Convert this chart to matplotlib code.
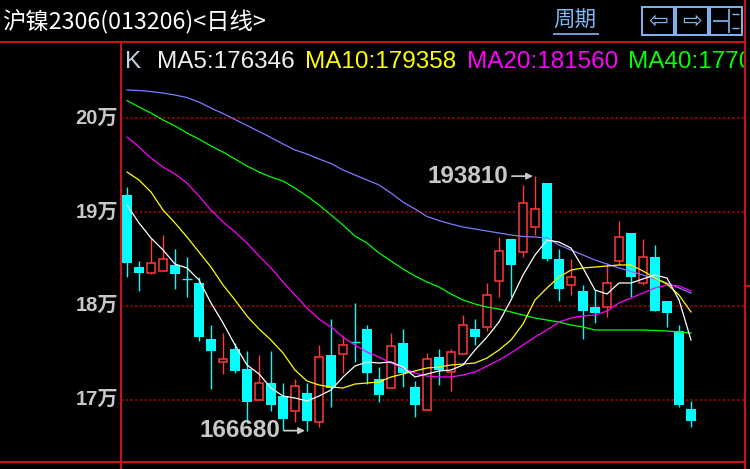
import matplotlib
matplotlib.use("Agg")
import matplotlib.pyplot as plt
from matplotlib.lines import Line2D
from matplotlib.patches import Rectangle
import matplotlib.transforms as mtransforms

# ---------------- data ----------------
title = "沪镍2306(013206)<日线>"
period_label = "周期"
y_ticks = [170000, 180000, 190000, 200000]
y_tick_labels = ["17万", "18万", "19万", "20万"]

opens = [191800, 184150, 183500, 183750, 184350, 182800, 182450, 176450, 173950, 175400,
         173250, 169950, 171750, 170400, 168800, 170650, 167550, 174750, 174800, 176150,
         177500, 172200, 171200, 176050, 171350, 168850, 174500, 172950, 174850, 177500,
         177750, 182650, 187100, 185700, 188400, 193100, 184980, 182250, 181550, 179850,
         179900, 184800, 187750, 182450, 185200, 180500, 177250, 169000]
highs = [192700, 184750, 187200, 187550, 186050, 185200, 183100, 177950, 177100, 176050,
         175150, 174750, 175150, 171800, 172200, 171800, 175800, 178600, 176800, 180250,
         177950, 173500, 177100, 177500, 171950, 175000, 175400, 175350, 179000, 178600,
         182400, 187300, 187100, 192850, 193810, 193100, 186050, 184950, 182200, 181650,
         184500, 189050, 187750, 187100, 186450, 180500, 177950, 169850]
lows = [183100, 181600, 183400, 183700, 181800, 180950, 176250, 171150, 172700, 172850,
        167500, 169950, 168800, 166750, 167550, 166680, 167100, 169250, 172850, 173950,
        171600, 169700, 171200, 171350, 168150, 168850, 171550, 170950, 174850, 175800,
        177250, 180950, 180950, 185200, 187550, 184800, 180550, 181150, 176450, 178200,
        178800, 184350, 180950, 182200, 179450, 177750, 169250, 167100]
closes = [184600, 183500, 184500, 185000, 183350, 182800, 176700, 175200, 174300, 173050,
          169700, 171750, 169400, 167900, 171450, 167750, 174500, 171200, 175800, 176150,
          172850, 170500, 175750, 172850, 169400, 174300, 173150, 175100, 177950, 176700,
          181150, 185850, 184350, 190980, 190280, 184980, 181800, 183050, 179450, 179250,
          182400, 187300, 183100, 185150, 179450, 179250, 169400, 167750]

ma5 = [190730, 188820, 187220, 185940, 184440, 184020, 182740, 180290, 178160, 175810,
       173680, 172720, 171230, 170370, 170160, 169840, 170370, 171010, 172400, 173570,
       174000, 173890, 174000, 173460, 172400, 172720, 173040, 173140, 173680, 175280,
       176660, 178260, 180610, 183270, 185400, 187000, 186790, 186150, 184020, 181670,
       181250, 182420, 182420, 182850, 183270, 182950, 180610, 176340]
ma10 = [194250, 193400, 192120, 190200, 188820, 187320, 185720, 184120, 182210, 180610,
        178900, 177520, 176340, 174960, 173140, 171970, 171550, 171330, 171230, 171650,
        171760, 171870, 172400, 172720, 173040, 173360, 173460, 173680, 173780, 173890,
        174420, 175280, 176340, 178050, 180610, 181890, 183060, 183800, 184020, 184120,
        184230, 184340, 184340, 183700, 182950, 182310, 181140, 179330]
ma20 = [197980, 196920, 195740, 194790, 194040, 193080, 191690, 190200, 188920, 187860,
        186680, 185300, 184020, 182530, 181140, 179750, 178580, 177730, 176660, 175810,
        175060, 174530, 173890, 173360, 172820, 172500, 172400, 172400, 172610, 172930,
        173570, 174210, 174960, 175810, 176660, 177410, 178260, 178690, 178900, 179010,
        179430, 180290, 180820, 181350, 181890, 182210, 182100, 181570]
ma40 = [201870, 201180, 200540, 199800, 199160, 198410, 197770, 197020, 196380, 195640,
        194890, 194250, 193720, 193290, 192550, 191690, 190730, 189670, 188600, 187430,
        186680, 185620, 184760, 183910, 183170, 182530, 181990, 181250, 180610, 180180,
        179860, 179650, 179330, 179010, 178690, 178470, 178260, 177940, 177730, 177410,
        177410, 177410, 177410, 177410, 177360, 177300, 177200, 177090]
ma60 = [202990, 202940, 202830, 202670, 202460, 202190, 201710, 201070, 200490, 199850,
        199210, 198570, 197930, 197240, 196600, 196170, 195640, 195160, 194470, 193930,
        193400, 192870, 192010, 191050, 190310, 189510, 189080, 188710, 188390, 188180,
        187960, 187750, 187540, 187380, 187320, 187220, 186470, 185940, 185400, 184870,
        184440, 184020, 183650, 183270, 182850, 182420, 181890, 181350]

legend_texts = ["K", "MA5:176346", "MA10:179358", "MA20:181560", "MA40:177090"]
high_label = "193810"
low_label = "166680"

# ---------------- styling ----------------
W, H = 750, 469
UP = "#FF3A3A"
DOWN = "#00FFFF"
FRAME = "#C81414"
GRID = "#8C0000"
LABEL = "#C8C8C8"
BLUE_UI = "#7DB9F5"
ma_colors = {"ma5": "#FFFFFF", "ma10": "#FFFF00", "ma20": "#FF00FF",
             "ma40": "#00FF00", "ma60": "#7B7BFF"}
legend_colors = ["#C8D0E0", "#F0F0F0", "#FFFF00", "#FF00FF", "#00FF00"]
legend_x = [125, 157, 305, 467, 628]

fig = plt.figure(figsize=(W / 100, H / 100), dpi=100, facecolor="black")


def fx(x):
    return x / W


def fy(y):
    return 1 - y / H


# price <-> pixel mapping derived from the gridline positions
PX_PER_10K = 93.8
Y17 = 399.5


def price_at(ypx):
    return 170000 + (Y17 - ypx) * 10000 / PX_PER_10K


ax = fig.add_axes([fx(121), fy(462), fx(745) - fx(121), fy(42) - fy(462)])
ax.set_facecolor("black")
for s in ax.spines.values():
    s.set_visible(False)
ax.set_xticks([])
ax.set_yticks([])
n = len(closes)
ax.set_xlim(-0.5, 51.5)
ax.set_ylim(price_at(462), price_at(42))

# grid
for v in y_ticks:
    ax.axhline(v, color=GRID, lw=1.4, ls=(0, (1.2, 1.2)), zorder=1)

# candles
body_w_down = 10 / 12
body_w_up = 8.6 / 12
for i in range(n):
    o, h, l, c = opens[i], highs[i], lows[i], closes[i]
    top, bot = max(o, c), min(o, c)
    if c > o:
        ax.vlines(i, top, h, color=UP, lw=1.0, zorder=3)
        ax.vlines(i, l, bot, color=UP, lw=1.0, zorder=3)
        ax.add_patch(Rectangle((i - body_w_up / 2, bot), body_w_up, top - bot,
                               facecolor="black", edgecolor=UP, lw=1.1, zorder=3))
    else:
        ax.vlines(i, l, h, color=DOWN, lw=1.0, zorder=3)
        if top - bot < 150:
            ax.hlines(o, i - body_w_down / 2, i + body_w_down / 2, color=DOWN, lw=1.0, zorder=3)
        else:
            ax.add_patch(Rectangle((i - body_w_down / 2, bot), body_w_down, top - bot,
                                   facecolor=DOWN, edgecolor="none", zorder=3))

xs = list(range(n))
ax.plot(xs, ma60, color=ma_colors["ma60"], lw=0.9, zorder=4)
ax.plot(xs, ma40, color=ma_colors["ma40"], lw=0.9, zorder=4)
ax.plot(xs, ma20, color=ma_colors["ma20"], lw=0.9, zorder=4)
ax.plot(xs, ma10, color=ma_colors["ma10"], lw=0.9, zorder=4)
ax.plot(xs, ma5, color=ma_colors["ma5"], lw=0.9, zorder=4)

# high / low annotations
ih = highs.index(max(highs))
il = lows.index(min(lows))
for idx, val, lab in [(ih, highs[ih], high_label), (il, lows[il], low_label)]:
    ax.annotate("", xy=(idx - 0.17, val), xytext=(idx - 1.92, val),
                arrowprops=dict(arrowstyle="-|>", color=LABEL, lw=1.3,
                                mutation_scale=9, shrinkA=0, shrinkB=0), zorder=6)
    ax.text(idx - 2.22, val, lab, color=LABEL, fontsize=17.5, fontweight="bold",
            family="Liberation Sans", ha="right", va="center", zorder=6)

# legend row (clipped at the right frame, as in the original)
for t, c, x in zip(legend_texts, legend_colors, legend_x):
    ax.text(fx(x), fy(62), t, color=c, fontsize=17.5, family="Liberation Sans",
            ha="left", va="center", transform=fig.transFigure, clip_on=True)

# y labels
trans = mtransforms.blended_transform_factory(fig.transFigure, ax.transData)
for v, lab in zip(y_ticks, y_tick_labels):
    ax.text(fx(118), v, lab, color=LABEL, fontsize=14.5, fontweight="bold",
            family=["Liberation Sans", "Noto Sans CJK SC"], ha="right", va="center",
            transform=trans, clip_on=False)

# frame lines
def fline(x0, y0, x1, y1, color=FRAME, lw=1.5):
    fig.add_artist(Line2D([fx(x0), fx(x1)], [fy(y0), fy(y1)], color=color, lw=lw,
                          transform=fig.transFigure, solid_capstyle="butt"))

fline(0, 42, 745, 42)
fline(121, 42, 121, 469)
fline(0, 462, 745, 462)
fline(745, 0, 745, 469)
fline(745, 286, 750, 286)

# header
fig.text(fx(2), fy(22), title, color="white", fontsize=16.8,
         family=["Noto Sans CJK SC", "DejaVu Sans"], ha="left", va="center")
fig.text(fx(553), fy(21), period_label, color=BLUE_UI, fontsize=15.5,
         family="Noto Sans CJK SC", ha="left", va="center")
fline(553, 34, 599, 34, color=BLUE_UI, lw=1.2)

boxes = [(642, 674), (676, 708), (710, 742)]
for (x0, x1) in boxes:
    fig.add_artist(Rectangle((fx(x0), fy(35)), fx(x1) - fx(x0), fy(7) - fy(35),
                             facecolor="none", edgecolor=BLUE_UI, lw=1.4,
                             transform=fig.transFigure))
fig.text(fx(658), fy(21), "\u21e6", color=BLUE_UI, fontsize=17, family="DejaVu Sans",
         ha="center", va="center")
fig.text(fx(692), fy(21), "\u21e8", color=BLUE_UI, fontsize=17, family="DejaVu Sans",
         ha="center", va="center")
fline(713, 21, 728, 21, color=BLUE_UI, lw=1.2)
fline(729, 9, 729, 33, color=BLUE_UI, lw=1.2)
fline(732, 14, 739, 14, color=BLUE_UI, lw=1.0)
fline(732, 28, 739, 28, color=BLUE_UI, lw=1.0)

fig.savefig("out.png", dpi=100, facecolor="black")
